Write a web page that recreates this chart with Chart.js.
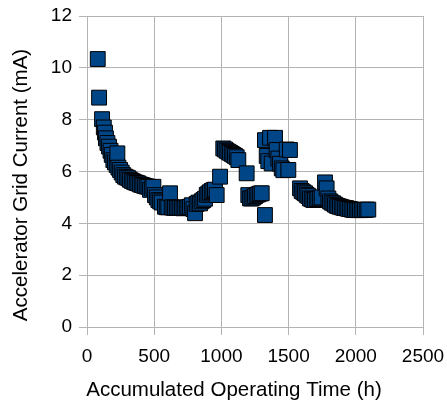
<!DOCTYPE html>
<html>
<head>
<meta charset="utf-8">
<script src="https://cdn.jsdelivr.net/npm/chart.js@4/dist/chart.umd.min.js"></script>
<style>
html,body{margin:0;padding:0;background:#fff;}
#wrap{width:447px;height:403px;}
</style>
</head>
<body>
<div id="wrap"><canvas id="c" width="447" height="403"></canvas></div>
<script>
const hours = [80,90,112,125,134,141,152,164,175,184,196,208,221,226,234,246,258,270,283,296,308,320,333,345,358,370,382,395,407,419,432,444,457,469,482,494,506,519,531,544,556,
580,593,605,618,630,643,655,668,680,693,705,718,730,742,754,766,780,792,804,816,829,841,853,866,878,891,903,915,928,940,952,965,990,
1014,1027,1039,1052,1064,1077,1089,1101,1114,1126,1188,
1200,1213,1225,1238,1250,1263,1275,1288,1300,1324,
1324,1337,1349,1362,1374,1399,1411,1424,1436,1449,1461,1486,1498,1510,
1585,1597,1610,1622,1634,1647,1659,1672,1684,1696,1709,1721,1734,1746,1771,1783,1796,1808,1820,1833,1845,1858,1870,1882,1895,1907,1920,1932,1944,1957,1969,1982,1994,2007,2019,2031,2044,2056,2068,2081,2093];
const currentMA = [10.34,8.85,8.02,7.7,7.5,7.28,7.1,6.96,6.8,6.64,6.44,6.35,6.25,6.7,6.15,6.06,5.96,5.86,5.8,5.77,5.74,5.68,5.64,5.61,5.58,5.56,5.54,5.5,5.48,5.46,5.44,5.42,5.41,5.29,5.35,5.41,5.09,5.0,4.9,4.85,4.8,
4.64,4.62,4.62,5.16,4.62,4.6,4.6,4.6,4.6,4.6,4.6,4.58,4.6,4.6,4.62,4.64,4.7,4.55,4.39,4.75,4.8,4.77,4.85,4.9,4.95,5.1,5.15,5.2,5.25,5.28,5.3,5.09,5.8,
6.89,6.85,6.8,6.76,6.72,6.68,6.64,6.6,6.55,6.44,5.93,
5.09,4.96,4.96,5.0,5.05,5.1,5.12,5.15,5.16,4.32,
7.21,6.6,6.4,7.3,6.31,7.3,6.83,6.5,6.3,6.12,6.05,6.85,6.06,6.83,
5.35,5.25,5.2,5.16,5.1,5.05,4.96,4.93,4.9,4.9,4.93,4.95,4.96,5.0,5.58,5.35,4.96,4.85,4.8,4.77,4.72,4.68,4.66,4.64,4.62,4.6,4.59,4.58,4.56,4.55,4.53,4.52,4.51,4.51,4.51,4.51,4.51,4.52,4.52,4.53,4.53];
const xTicks = [0,500,1000,1500,2000,2500];
const yTicks = [0,2,4,6,8,10,12];
const xTitle = 'Accumulated Operating Time (h)';
const yTitle = 'Accelerator Grid Current (mA)';

const pts = hours.map((h,i)=>({x:h,y:currentMA[i]}));
const FAM = '"Liberation Sans", Arial, sans-serif';
const tickFont = {family:FAM, size:19};
const gridColor = '#b3b3b3';

const titlesPlugin = {
  id:'axisTitles',
  afterDraw(chart){
    const ctx = chart.ctx;
    ctx.save();
    ctx.fillStyle = '#000';
    ctx.font = '20.5px ' + FAM;
    ctx.textAlign = 'center';
    ctx.textBaseline = 'middle';
    ctx.fillText(xTitle, 234, 390);
    ctx.translate(21, 185);
    ctx.rotate(-Math.PI/2);
    ctx.fillText(yTitle, 0, 0);
    ctx.restore();
  }
};

new Chart(document.getElementById('c'), {
  type:'scatter',
  data:{datasets:[{
    data:pts,
    pointStyle:'rect',
    pointRadius:10.5,
    pointHoverRadius:10.5,
    backgroundColor:'#004586',
    borderColor:'#000000',
    borderWidth:1
  }]},
  options:{
    responsive:false,
    animation:false,
    devicePixelRatio:1,
    layout:{padding:{left:0,right:24,top:16,bottom:0}},
    plugins:{legend:{display:false},tooltip:{enabled:false}},
    scales:{
      x:{
        type:'linear',min:0,max:2500,
        afterBuildTicks:s=>{s.ticks=xTicks.map(v=>({value:v}));},
        afterFit:s=>{s.height=76;s.paddingLeft=0;s.paddingRight=0;},
        grid:{color:gridColor,tickLength:8,drawTicks:true},
        border:{color:gridColor},
        ticks:{color:'#000',font:tickFont,padding:10,maxRotation:0,callback:v=>String(v)},
        title:{display:false}
      },
      y:{
        type:'linear',min:0,max:12,
        afterBuildTicks:s=>{s.ticks=yTicks.map(v=>({value:v}));},
        afterFit:s=>{s.width=87;s.paddingTop=0;s.paddingBottom=0;},
        grid:{color:gridColor,tickLength:8,drawTicks:true},
        border:{color:gridColor},
        ticks:{color:'#000',font:tickFont,padding:7,callback:v=>String(v)},
        title:{display:false}
      }
    }
  },
  plugins:[titlesPlugin]
});
</script>
</body>
</html>
